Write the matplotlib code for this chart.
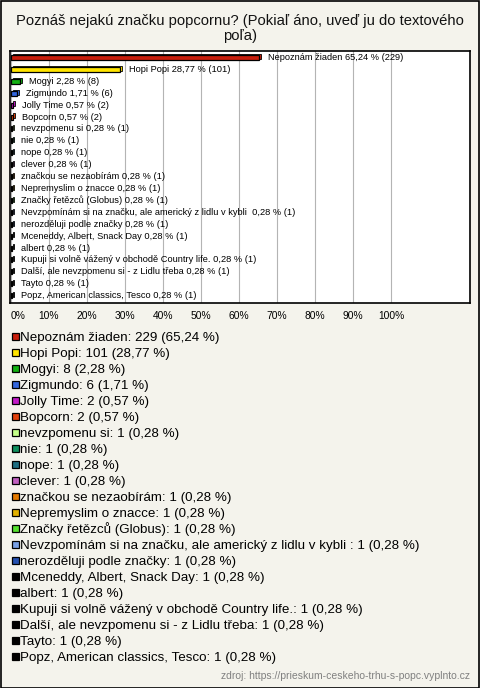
import matplotlib
matplotlib.use("Agg")
import matplotlib.pyplot as plt
from matplotlib.patches import Rectangle
from matplotlib.transforms import offset_copy

title = "Poznáš nejakú značku popcornu? (Pokiaľ áno, uveď ju do textového\npoľa)"
categories = [
    "Nepoznám žiaden", "Hopi Popi", "Mogyi", "Zigmundo", "Jolly Time", "Bopcorn",
    "nevzpomenu si", "nie", "nope", "clever", "značkou se nezaobírám",
    "Nepremyslim o znacce", "Značky řetězců (Globus)",
    "Nevzpomínám si na značku, ale americký z lidlu v kybli ",
    "nerozděluji podle značky", "Mceneddy, Albert, Snack Day", "albert",
    "Kupuji si volně vážený v obchodě Country life.",
    "Další, ale nevzpomenu si - z Lidlu třeba", "Tayto",
    "Popz, American classics, Tesco",
]
counts = [229, 101, 8, 6, 2, 2, 1, 1, 1, 1, 1, 1, 1, 1, 1, 1, 1, 1, 1, 1, 1]
percents = [65.24, 28.77, 2.28, 1.71, 0.57, 0.57] + [0.28] * 15
colors = ["#c81e0c", "#ffe400", "#12b012", "#3366dd", "#c21ac8", "#e0400c",
          "#c4ff88", "#10905e", "#1e6e82", "#c060c0", "#e47a00", "#e0b000",
          "#55e030", "#78a0e6", "#2450b0"] + ["#000000"] * 6
ticks = list(range(0, 101, 10))
tick_labels = [f"{t}%" for t in ticks]
source = "zdroj: https://prieskum-ceskeho-trhu-s-popc.vyplnto.cz"


def fmt(p):
    return f"{p:.2f}".replace(".", ",")


FONT = "Liberation Sans"
W, H = 480, 688
fig = plt.figure(figsize=(W / 100, H / 100), dpi=100)
fig.patch.set_facecolor("#f4f3ec")
fig.patches.append(Rectangle((0.5 / W, 0.5 / H), 1 - 1.5 / W, 1 - 1.5 / H,
                             transform=fig.transFigure, fill=False,
                             edgecolor="#000000", lw=1.2))

fig.text(0.5, 1 - 14 / H, title, ha="center", va="top", fontsize=10.6,
         family=FONT, color="#111111", linespacing=1.05)

ax_l, ax_r, ax_t, ax_b = 10, 470, 51, 303
ax = fig.add_axes([ax_l / W, 1 - ax_b / H, (ax_r - ax_l) / W, (ax_b - ax_t) / H])
ax.set_facecolor("white")
for s in ax.spines.values():
    s.set_color("#000000")
    s.set_linewidth(1.2)

n = len(categories)
ax.set_xlim(-0.26, 120.8)
ax.set_ylim(n - 1 + 0.62, -0.55)
for t in ticks:
    ax.axvline(t, color="#b4b4b4", lw=0.8, zorder=0)

ys = list(range(n))
# 3D depth effect (back face)
ax.barh([y - 0.1 for y in ys], percents, height=0.42,
        left=0.5, color=colors, edgecolor="#000000", linewidth=0.6, zorder=2)
ax.barh(ys, percents, height=0.42, color=colors, edgecolor="#000000",
        linewidth=0.9, zorder=3)

tr = offset_copy(ax.transData, fig=fig, x=9, y=0, units="dots")
for y, c, p, k in zip(ys, categories, percents, counts):
    lab = f"{c} {fmt(p)} % ({k})"
    ax.text(p, y, lab, ha="left", va="center", fontsize=6.65,
            family=FONT, color="#000000", zorder=4, transform=tr)

ax.set_xticks([])
ax.set_yticks([])

for t, tl in zip(ticks, tick_labels):
    xpx = 11 + t * 3.8
    if t == 0:
        xpx = 18
    fig.text(xpx / W, 1 - 316 / H, tl, ha="center", va="center",
             fontsize=7.4, family=FONT, color="#000000")

# Legend
b0 = 341.5
dy = 16.0
for i, (c, k, p, col) in enumerate(zip(categories, counts, percents, colors)):
    base = b0 + i * dy
    fig.patches.append(Rectangle((11.5 / W, 1 - (base - 1.5) / H), 7.5 / W, 7.5 / H,
                                 transform=fig.transFigure, facecolor=col,
                                 edgecolor="#000000", lw=0.9))
    lab = f"{c}: {k} ({fmt(p)} %)"
    fig.text(20 / W, 1 - base / H, lab, ha="left", va="baseline",
             fontsize=9.6, family=FONT, color="#000000")

fig.text(470 / W, 1 - 676 / H, source, ha="right", va="center", fontsize=7.5,
         family=FONT, color="#808080")

fig.savefig("out.png", dpi=100, facecolor=fig.get_facecolor())
